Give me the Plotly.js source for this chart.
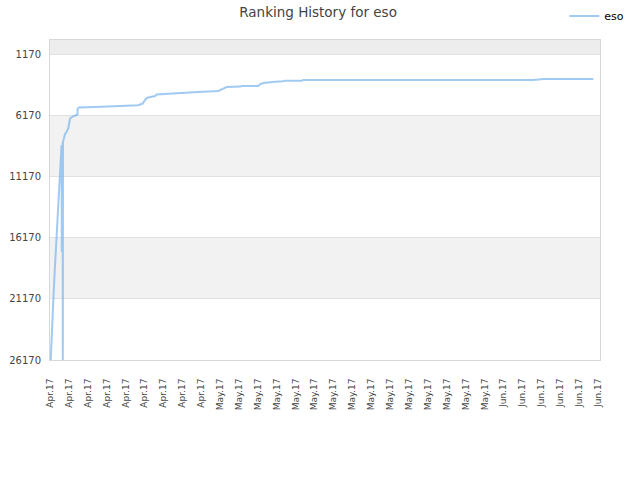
<!DOCTYPE html>
<html>
<head>
<meta charset="utf-8">
<script src="https://cdn.plot.ly/plotly-3.0.1.min.js"></script>
<style>html,body{margin:0;padding:0;background:#fff;}#chart{width:640px;height:480px;}</style>
</head>
<body>
<div id="chart"></div>
<script>
// Days since the first tick (Apr 2017)
const days = [0.08, 0.19, 0.30, 0.41, 0.52, 0.63, 0.78, 0.89, 1.00, 1.11, 1.22, 1.28, 1.31, 1.33, 1.40, 1.42, 1.44,
  1.55, 1.66, 1.85, 2.03, 2.11, 2.22, 2.58, 2.96, 3.03, 3.07, 3.22, 4.99, 6.66, 8.13, 9.79, 10.28, 10.65, 10.90,
  11.65, 11.83, 12.57, 14.05, 16.45, 18.11, 18.67, 19.22, 19.60, 21.07, 21.26, 23.10, 23.29, 23.66, 24.77, 24.96,
  25.88, 26.06, 27.92, 28.09, 53.60, 54.71, 60.26];
// Ranking values
const ranks = [26170, 23860, 22224, 20590, 18956, 17322, 15688, 14054, 12420, 10786, 9152, 8605, 17322, 8335, 8335, 26170, 8335,
  8033, 7706, 7502, 7216, 6889, 6423, 6235, 6154, 6113, 5606, 5525, 5476, 5443, 5361, 5328, 5198, 4789, 4708,
  4577, 4462, 4438, 4356, 4250, 4217, 4168, 3972, 3842, 3809, 3760, 3760, 3621, 3515, 3482, 3417,
  3376, 3335, 3335, 3270, 3270, 3188, 3188];
const yTickValues = [1170, 6170, 11170, 16170, 21170, 26170];
const xTickLabels = ['Apr.17','Apr.17','Apr.17','Apr.17','Apr.17','Apr.17','Apr.17','Apr.17','Apr.17',
  'May.17','May.17','May.17','May.17','May.17','May.17','May.17','May.17','May.17','May.17','May.17','May.17','May.17','May.17','May.17',
  'Jun.17','Jun.17','Jun.17','Jun.17','Jun.17','Jun.17'];
const seriesName = 'eso';

const xMax = 61;
const tickStep = 2.096;
const tickVals = xTickLabels.map((_, i) => i * tickStep);

// alternating bands
const bandColors = ['#ededed', null, '#f2f2f2', null, '#f2f2f2', null];
const bandEdges = [0].concat(yTickValues);
const shapes = [];
for (let i = 0; i < bandEdges.length - 1; i++) {
  if (bandColors[i]) {
    shapes.push({type: 'rect', xref: 'paper', yref: 'y', x0: 0, x1: 1, y0: bandEdges[i], y1: bandEdges[i + 1],
      fillcolor: bandColors[i], line: {width: 0}, layer: 'below'});
  }
}

const n = Math.min(days.length, ranks.length);
const trace = {
  x: days.slice(0, n), y: ranks.slice(0, n), type: 'scatter', mode: 'lines', name: seriesName,
  line: {color: 'rgba(124,181,236,0.72)', width: 2}
};

const layout = {
  width: 640, height: 480,
  margin: {l: 50, r: 40, t: 40, b: 120, autoexpand: false},
  paper_bgcolor: '#fff', plot_bgcolor: '#fff',
  title: {text: 'Ranking History for eso', x: 0.497, xref: 'container', xanchor: 'center', y: 0.975, yanchor: 'middle',
    font: {family: 'DejaVu Sans', size: 13.5, color: '#444'}},
  showlegend: true,
  legend: {x: 0.935, y: 1.12, xanchor: 'left', yanchor: 'top', bgcolor: 'rgba(0,0,0,0)',
    font: {family: 'DejaVu Sans', size: 11, color: '#000'}},
  xaxis: {range: [0, xMax], tickmode: 'array', tickvals: tickVals, ticktext: xTickLabels, tickangle: -90,
    showgrid: false, zeroline: false, showline: true, mirror: true, linecolor: '#d8d8d8', linewidth: 1,
    ticks: 'outside', ticklen: 14, tickcolor: 'rgba(0,0,0,0)',
    tickfont: {family: 'DejaVu Sans', size: 9, color: '#444'}},
  yaxis: {range: [26170, 0], tickmode: 'array', tickvals: yTickValues, ticktext: yTickValues.map(String),
    showgrid: true, gridcolor: '#e2e2e2', zeroline: false, showline: true, mirror: true, linecolor: '#d8d8d8', linewidth: 1,
    ticks: 'outside', ticklen: 6, tickcolor: 'rgba(0,0,0,0)',
    tickfont: {family: 'DejaVu Sans', size: 10, color: '#444'}},
  shapes: shapes
};

Plotly.newPlot('chart', [trace], layout, {displayModeBar: false, staticPlot: true});
</script>
</body>
</html>
